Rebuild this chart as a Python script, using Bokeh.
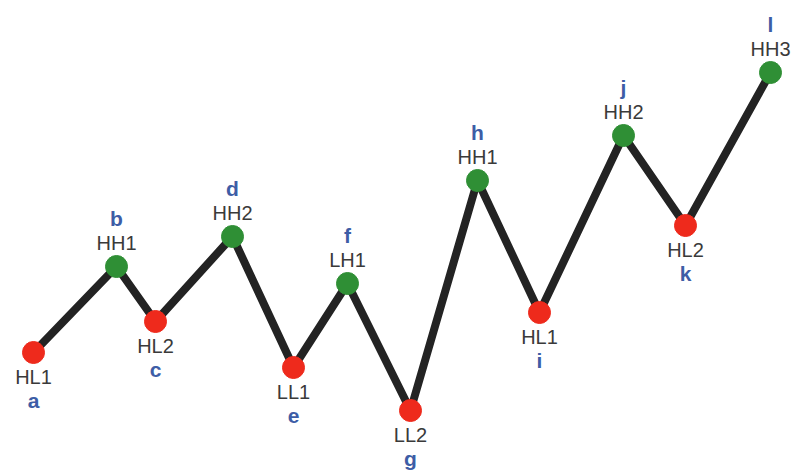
from bokeh.plotting import figure
from bokeh.models import Range1d, ColumnDataSource
from bokeh.core.properties import value
from bokeh.embed import file_html
from bokeh.resources import INLINE

# Swing points of the zigzag (time position, price level)
letters = ["a", "b", "c", "d", "e", "f", "g", "h", "i", "j", "k", "l"]
swing_labels = ["HL1", "HH1", "HL2", "HH2", "LL1", "LH1", "LL2", "HH1", "HL1", "HH2", "HL2", "HH3"]
swing_kind = ["low", "high", "low", "high", "low", "high", "low", "high", "low", "high", "low", "high"]
time_pos = [33, 116, 155, 232, 293, 347, 410, 477, 539, 623, 685, 770]
price = [118, 204, 149, 234, 103, 187, 60, 290, 158, 335, 245, 398]

RED = "#ee2a1c"
GREEN = "#2f8f35"
LINE = "#232323"
TEXT = "#3a3a3a"
BLUE = "#3d5da6"

p = figure(width=793, height=470, output_backend="svg", toolbar_location=None,
           x_range=Range1d(0, 793), y_range=Range1d(0, 470),
           min_border=0, outline_line_color=None)
p.axis.visible = False
p.grid.visible = False
p.background_fill_color = "white"
p.border_fill_color = "white"

p.line(time_pos, price, line_color=LINE, line_width=8, line_join="round", line_cap="round")

def subset(kind):
    idx = [i for i, k in enumerate(swing_kind) if k == kind]
    return ColumnDataSource(dict(
        x=[time_pos[i] for i in idx],
        y=[price[i] for i in idx],
        lab=[swing_labels[i] for i in idx],
        let=[letters[i] for i in idx],
    ))

highs = subset("high")
lows = subset("low")

p.scatter("x", "y", source=highs, size=22, fill_color=GREEN, line_color=GREEN)
p.scatter("x", "y", source=lows, size=22, fill_color=RED, line_color=RED)

font = value("Liberation Sans")
for src, sign in ((highs, -1), (lows, 1)):
    p.text("x", "y", text="lab", source=src, y_offset=sign * 24,
           text_align="center", text_baseline="middle", text_font=font,
           text_font_size="20px", text_color=TEXT)
    p.text("x", "y", text="let", source=src, y_offset=sign * 48,
           text_align="center", text_baseline="middle", text_font=font,
           text_font_size="21px", text_font_style="bold", text_color=BLUE)

open("out.html", "w").write(file_html(p, INLINE))
